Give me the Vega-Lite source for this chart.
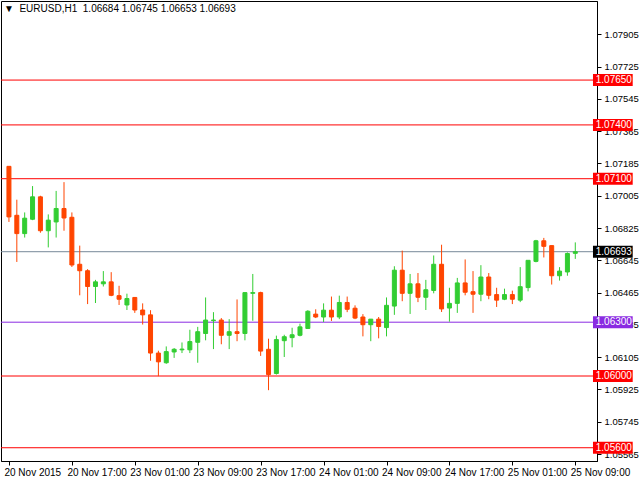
{
  "$schema": "https://vega.github.io/schema/vega-lite/v6.json",
  "width": 596,
  "height": 460,
  "autosize": {"type": "none"},
  "padding": {"left": 1, "top": 1, "right": 43, "bottom": 19},
  "background": "white",
  "config": {
    "view": {"stroke": "black", "strokeWidth": 1},
    "font": "Liberation Sans",
    "axis": {"labelOverlap": false, "labelFlush": false, "labelBound": false, "grid": false, "tickColor": "black", "domainColor": "black", "labelColor": "black", "labelFontSize": 10, "tickSize": 4}
  },
  "title": {"text": "▼\u00a0\u00a0EURUSD,H1\u00a0\u00a01.06684 1.06745 1.06653 1.06693", "anchor": "start", "frame": "group", "offset": -13, "dx": 3, "fontSize": 10, "fontWeight": "normal", "color": "black", "font": "Liberation Sans"},
  "datasets": {
    "candles": [
      {"i": 0, "t": "20 Nov 09:00", "o": 1.07169, "h": 1.07169, "l": 1.06859, "c": 1.06887},
      {"i": 1, "t": "20 Nov 10:00", "o": 1.06896, "h": 1.06983, "l": 1.06636, "c": 1.06794},
      {"i": 2, "t": "20 Nov 11:00", "o": 1.06794, "h": 1.06912, "l": 1.06772, "c": 1.06880},
      {"i": 3, "t": "20 Nov 12:00", "o": 1.06874, "h": 1.07059, "l": 1.06869, "c": 1.06999},
      {"i": 4, "t": "20 Nov 13:00", "o": 1.06999, "h": 1.07005, "l": 1.06799, "c": 1.06810},
      {"i": 5, "t": "20 Nov 14:00", "o": 1.06810, "h": 1.06901, "l": 1.06717, "c": 1.06869},
      {"i": 6, "t": "20 Nov 15:00", "o": 1.06859, "h": 1.07032, "l": 1.06772, "c": 1.06934},
      {"i": 7, "t": "20 Nov 16:00", "o": 1.06934, "h": 1.07081, "l": 1.06810, "c": 1.06881},
      {"i": 8, "t": "20 Nov 17:00", "o": 1.06885, "h": 1.06912, "l": 1.06608, "c": 1.06619},
      {"i": 9, "t": "20 Nov 18:00", "o": 1.06623, "h": 1.06727, "l": 1.06450, "c": 1.06587},
      {"i": 10, "t": "20 Nov 19:00", "o": 1.06587, "h": 1.06596, "l": 1.06401, "c": 1.06499},
      {"i": 11, "t": "20 Nov 20:00", "o": 1.06499, "h": 1.06536, "l": 1.06407, "c": 1.06525},
      {"i": 12, "t": "20 Nov 21:00", "o": 1.06514, "h": 1.06585, "l": 1.06499, "c": 1.06525},
      {"i": 13, "t": "20 Nov 22:00", "o": 1.06525, "h": 1.06579, "l": 1.06445, "c": 1.06450},
      {"i": 14, "t": "20 Nov 23:00", "o": 1.06448, "h": 1.06503, "l": 1.06396, "c": 1.06428},
      {"i": 15, "t": "23 Nov 00:00", "o": 1.06396, "h": 1.06459, "l": 1.06368, "c": 1.06432},
      {"i": 16, "t": "23 Nov 01:00", "o": 1.06438, "h": 1.06440, "l": 1.06352, "c": 1.06368},
      {"i": 17, "t": "23 Nov 02:00", "o": 1.06368, "h": 1.06405, "l": 1.06287, "c": 1.06341},
      {"i": 18, "t": "23 Nov 03:00", "o": 1.06341, "h": 1.06367, "l": 1.06085, "c": 1.06128},
      {"i": 19, "t": "23 Nov 04:00", "o": 1.06128, "h": 1.06141, "l": 1.05999, "c": 1.06079},
      {"i": 20, "t": "23 Nov 05:00", "o": 1.06074, "h": 1.06165, "l": 1.06068, "c": 1.06136},
      {"i": 21, "t": "23 Nov 06:00", "o": 1.06134, "h": 1.06156, "l": 1.06101, "c": 1.06149},
      {"i": 22, "t": "23 Nov 07:00", "o": 1.06146, "h": 1.06187, "l": 1.06128, "c": 1.06150},
      {"i": 23, "t": "23 Nov 08:00", "o": 1.06146, "h": 1.06258, "l": 1.06128, "c": 1.06192},
      {"i": 24, "t": "23 Nov 09:00", "o": 1.06188, "h": 1.06274, "l": 1.06074, "c": 1.06247},
      {"i": 25, "t": "23 Nov 10:00", "o": 1.06237, "h": 1.06438, "l": 1.06199, "c": 1.06312},
      {"i": 26, "t": "23 Nov 11:00", "o": 1.06309, "h": 1.06356, "l": 1.06150, "c": 1.06312},
      {"i": 27, "t": "23 Nov 12:00", "o": 1.06312, "h": 1.06323, "l": 1.06177, "c": 1.06227},
      {"i": 28, "t": "23 Nov 13:00", "o": 1.06227, "h": 1.06317, "l": 1.06150, "c": 1.06247},
      {"i": 29, "t": "23 Nov 14:00", "o": 1.06247, "h": 1.06427, "l": 1.06194, "c": 1.06237},
      {"i": 30, "t": "23 Nov 15:00", "o": 1.06237, "h": 1.06465, "l": 1.06199, "c": 1.06465},
      {"i": 31, "t": "23 Nov 16:00", "o": 1.06461, "h": 1.06569, "l": 1.06308, "c": 1.06465},
      {"i": 32, "t": "23 Nov 17:00", "o": 1.06465, "h": 1.06470, "l": 1.06112, "c": 1.06139},
      {"i": 33, "t": "23 Nov 18:00", "o": 1.06149, "h": 1.06208, "l": 1.05921, "c": 1.06008},
      {"i": 34, "t": "23 Nov 19:00", "o": 1.06014, "h": 1.06225, "l": 1.06008, "c": 1.06203},
      {"i": 35, "t": "23 Nov 20:00", "o": 1.06197, "h": 1.06230, "l": 1.06106, "c": 1.06219},
      {"i": 36, "t": "23 Nov 21:00", "o": 1.06214, "h": 1.06269, "l": 1.06160, "c": 1.06230},
      {"i": 37, "t": "23 Nov 22:00", "o": 1.06227, "h": 1.06292, "l": 1.06221, "c": 1.06274},
      {"i": 38, "t": "23 Nov 23:00", "o": 1.06265, "h": 1.06367, "l": 1.06265, "c": 1.06361},
      {"i": 39, "t": "24 Nov 00:00", "o": 1.06345, "h": 1.06372, "l": 1.06323, "c": 1.06329},
      {"i": 40, "t": "24 Nov 01:00", "o": 1.06329, "h": 1.06405, "l": 1.06301, "c": 1.06367},
      {"i": 41, "t": "24 Nov 02:00", "o": 1.06367, "h": 1.06443, "l": 1.06307, "c": 1.06329},
      {"i": 42, "t": "24 Nov 03:00", "o": 1.06329, "h": 1.06448, "l": 1.06317, "c": 1.06410},
      {"i": 43, "t": "24 Nov 04:00", "o": 1.06410, "h": 1.06443, "l": 1.06356, "c": 1.06372},
      {"i": 44, "t": "24 Nov 05:00", "o": 1.06378, "h": 1.06394, "l": 1.06317, "c": 1.06323},
      {"i": 45, "t": "24 Nov 06:00", "o": 1.06329, "h": 1.06345, "l": 1.06221, "c": 1.06286},
      {"i": 46, "t": "24 Nov 07:00", "o": 1.06286, "h": 1.06317, "l": 1.06194, "c": 1.06317},
      {"i": 47, "t": "24 Nov 08:00", "o": 1.06317, "h": 1.06329, "l": 1.06210, "c": 1.06276},
      {"i": 48, "t": "24 Nov 09:00", "o": 1.06270, "h": 1.06438, "l": 1.06221, "c": 1.06394},
      {"i": 49, "t": "24 Nov 10:00", "o": 1.06390, "h": 1.06612, "l": 1.06341, "c": 1.06590},
      {"i": 50, "t": "24 Nov 11:00", "o": 1.06590, "h": 1.06699, "l": 1.06417, "c": 1.06461},
      {"i": 51, "t": "24 Nov 12:00", "o": 1.06461, "h": 1.06569, "l": 1.06346, "c": 1.06514},
      {"i": 52, "t": "24 Nov 13:00", "o": 1.06514, "h": 1.06574, "l": 1.06412, "c": 1.06439},
      {"i": 53, "t": "24 Nov 14:00", "o": 1.06439, "h": 1.06536, "l": 1.06368, "c": 1.06481},
      {"i": 54, "t": "24 Nov 15:00", "o": 1.06477, "h": 1.06672, "l": 1.06461, "c": 1.06623},
      {"i": 55, "t": "24 Nov 16:00", "o": 1.06623, "h": 1.06732, "l": 1.06357, "c": 1.06374},
      {"i": 56, "t": "24 Nov 17:00", "o": 1.06379, "h": 1.06492, "l": 1.06303, "c": 1.06405},
      {"i": 57, "t": "24 Nov 18:00", "o": 1.06405, "h": 1.06547, "l": 1.06352, "c": 1.06519},
      {"i": 58, "t": "24 Nov 19:00", "o": 1.06519, "h": 1.06650, "l": 1.06450, "c": 1.06467},
      {"i": 59, "t": "24 Nov 20:00", "o": 1.06470, "h": 1.06585, "l": 1.06352, "c": 1.06456},
      {"i": 60, "t": "24 Nov 21:00", "o": 1.06456, "h": 1.06618, "l": 1.06417, "c": 1.06552},
      {"i": 61, "t": "24 Nov 22:00", "o": 1.06552, "h": 1.06574, "l": 1.06428, "c": 1.06450},
      {"i": 62, "t": "24 Nov 23:00", "o": 1.06454, "h": 1.06492, "l": 1.06385, "c": 1.06423},
      {"i": 63, "t": "25 Nov 00:00", "o": 1.06428, "h": 1.06487, "l": 1.06423, "c": 1.06454},
      {"i": 64, "t": "25 Nov 01:00", "o": 1.06454, "h": 1.06476, "l": 1.06401, "c": 1.06428},
      {"i": 65, "t": "25 Nov 02:00", "o": 1.06423, "h": 1.06607, "l": 1.06412, "c": 1.06498},
      {"i": 66, "t": "25 Nov 03:00", "o": 1.06493, "h": 1.06645, "l": 1.06472, "c": 1.06645},
      {"i": 67, "t": "25 Nov 04:00", "o": 1.06639, "h": 1.06759, "l": 1.06634, "c": 1.06754},
      {"i": 68, "t": "25 Nov 05:00", "o": 1.06754, "h": 1.06770, "l": 1.06661, "c": 1.06723},
      {"i": 69, "t": "25 Nov 06:00", "o": 1.06727, "h": 1.06727, "l": 1.06510, "c": 1.06559},
      {"i": 70, "t": "25 Nov 07:00", "o": 1.06559, "h": 1.06607, "l": 1.06532, "c": 1.06585},
      {"i": 71, "t": "25 Nov 08:00", "o": 1.06580, "h": 1.06689, "l": 1.06559, "c": 1.06683},
      {"i": 72, "t": "25 Nov 09:00", "o": 1.06684, "h": 1.06745, "l": 1.06653, "c": 1.06693}
    ],
    "levels": [
      {"price": 1.0765, "kind": "level"},
      {"price": 1.074, "kind": "level"},
      {"price": 1.071, "kind": "level"},
      {"price": 1.06693, "kind": "bid"},
      {"price": 1.063, "kind": "pivot"},
      {"price": 1.06, "kind": "level"},
      {"price": 1.056, "kind": "level"}
    ]
  },
  "layer": [
    {
      "data": {"name": "levels"},
      "mark": {"type": "rule", "strokeWidth": 1},
      "encoding": {
        "y": {
          "field": "price", "type": "quantitative",
          "scale": {"domain": [1.05554, 1.08063], "nice": false, "zero": false},
          "axis": {
            "orient": "right", "title": null, "grid": false, "format": ".5f",
            "values": [1.05565, 1.05745, 1.05925, 1.06105, 1.06285, 1.06465, 1.06645, 1.06825, 1.07005, 1.07185, 1.07365, 1.07545, 1.07725, 1.07905],
            "tickCount": 30, "tickSize": 4, "labelPadding": 3, "labelFontSize": 9.5, "labelOverlap": false
          }
        },
        "stroke": {
          "field": "kind", "type": "nominal", "legend": null,
          "scale": {"domain": ["level", "pivot", "bid"], "range": ["#FF0000", "#8A2BE2", "#778899"]}
        }
      }
    },
    {
      "data": {"name": "candles"},
      "mark": {"type": "rule", "strokeWidth": 1},
      "encoding": {
        "x": {
          "field": "i", "type": "quantitative",
          "scale": {"domain": [-0.375, 74.125], "nice": false, "zero": false},
          "axis": {
            "title": null, "values": [0, 8, 16, 24, 32, 40, 48, 56, 64, 72], "tickCount": 30,
            "labelExpr": "['20 Nov 2015','20 Nov 17:00','23 Nov 01:00','23 Nov 09:00','23 Nov 17:00','24 Nov 01:00','24 Nov 09:00','24 Nov 17:00','25 Nov 01:00','25 Nov 09:00'][datum.value / 8]",
            "labelAlign": "left", "labelAngle": 0, "labelPadding": 2, "labelOffset": -5, "tickSize": 4
          }
        },
        "y": {"field": "l", "type": "quantitative"},
        "y2": {"field": "h"},
        "color": {"condition": {"test": "datum.c >= datum.o", "value": "#32CD32"}, "value": "#FF4500"}
      }
    },
    {
      "data": {"name": "candles"},
      "mark": {"type": "bar", "width": 4, "strokeWidth": 1, "opacity": 1},
      "encoding": {
        "x": {"field": "i", "type": "quantitative"},
        "y": {"field": "o", "type": "quantitative"},
        "y2": {"field": "c"},
        "color": {"condition": {"test": "datum.c >= datum.o", "value": "#32CD32"}, "value": "#FF4500"},
        "stroke": {"condition": {"test": "datum.c >= datum.o", "value": "#32CD32"}, "value": "#FF4500"}
      }
    },
    {
      "data": {"name": "levels"},
      "mark": {"type": "bar", "orient": "horizontal", "height": 12},
      "encoding": {
        "x": {"datum": 74.25, "type": "quantitative"},
        "x2": {"datum": 79.3},
        "y": {"field": "price", "type": "quantitative"},
        "fill": {
          "field": "kind", "type": "nominal", "legend": null,
          "scale": {"domain": ["level", "pivot", "bid"], "range": ["#FF0000", "#8A2BE2", "#000000"]}
        }
      }
    },
    {
      "data": {"name": "levels"},
      "mark": {"type": "text", "align": "left", "baseline": "middle", "color": "white", "fontSize": 10, "font": "Liberation Sans"},
      "encoding": {
        "x": {"datum": 74.6, "type": "quantitative"},
        "y": {"field": "price", "type": "quantitative"},
        "text": {"field": "price", "type": "quantitative", "format": ".5f"}
      }
    }
  ]
}
